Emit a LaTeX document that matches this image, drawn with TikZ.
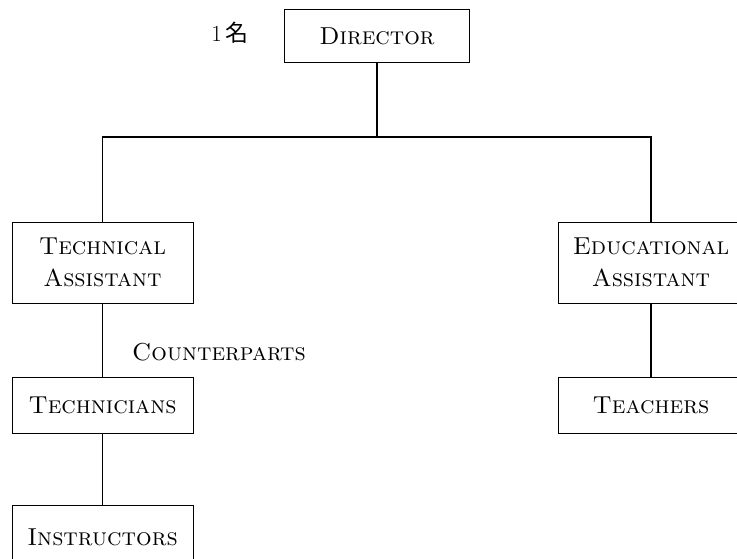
\documentclass[tikz,border=0pt]{standalone}
\usepackage{fontspec}
\newfontfamily\cjk{Noto Sans CJK JP}
\begin{document}
\begin{tikzpicture}[x=1pt,y=-1pt,
  box/.style={draw,line width=0.9pt,align=center,inner sep=0pt,font=\fontsize{24.5}{32}\selectfont\scshape},
  lbl/.style={inner sep=0pt,font=\fontsize{24.5}{30}\selectfont\scshape},
  conn/.style={line width=1.2pt}]
\useasboundingbox (0,0) rectangle (737,558);
\clip (0,0) rectangle (737,558);
\node[box,minimum width=185,minimum height=53] (dir) at (377,36) {Director};
\node[inner sep=0pt,font=\fontsize{23}{26}\selectfont] (one) at (230,33) {1\,{\cjk 名}};
\node[box,minimum width=181,minimum height=81] (ta) at (102.5,262.5) {Technical\\Assistant};
\node[box,minimum width=181,minimum height=56] (tech) at (102.5,405) {Technicians};
\node[box,minimum width=181,minimum height=64] (inst) at (102.5,537) {Instructors};
\node[box,minimum width=186,minimum height=81] (ea) at (651,262.5) {Educational\\Assistant};
\node[box,minimum width=186,minimum height=56] (teach) at (651,405) {Teachers};
\node[lbl] (cp) at (219,352) {Counterparts};
\coordinate (bus) at (377,137);
\draw[conn] (dir.south) -- (bus);
\draw[conn] (ta.north) |- (bus) -| (ea.north);
\draw[conn] (ta.south) -- (tech.north);
\draw[conn] (tech.south) -- (inst.north);
\draw[conn] (ea.south) -- (teach.north);
\end{tikzpicture}
\end{document}
